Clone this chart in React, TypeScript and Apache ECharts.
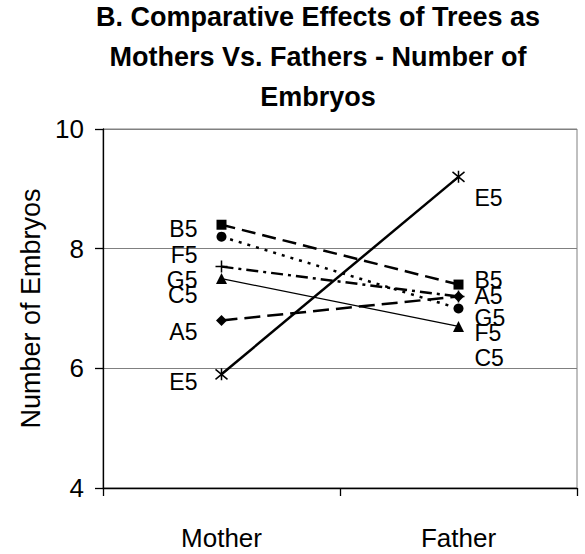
import React, { useEffect, useRef } from "react";
import * as echarts from "echarts";

const categories = ["Mother", "Father"];
const seriesNames = ["B5", "F5", "G5", "C5", "A5", "E5"];
const b5 = [8.4, 7.4];
const f5 = [8.2, 7.0];
const g5 = [7.7, 7.2];
const c5 = [7.5, 6.7];
const a5 = [6.8, 7.2];
const e5 = [5.9, 9.2];
const yMin = 4;
const yMax = 10;
const yInterval = 2;

const PLUS = "path://M5,0L5,10M0,5L10,5";
const STAR = "path://M0,0L10,10M0,10L10,0M5,-1L5,11";

// style per series (position offsets of the text labels in pixels)
const styles: any[] = [
  { symbol: "rect", size: 10, width: 2.5, type: [14, 7], dy: [4, -5] },
  { symbol: "circle", size: 10, width: 2.5, type: [3, 6], dy: [18, 24] },
  { symbol: PLUS, size: 12, width: 2.5, type: [12, 5, 3, 5], dy: [13, 21] },
  { symbol: "triangle", size: 11, width: 1.3, type: "solid", dy: [16, 32] },
  { symbol: "diamond", size: 11, width: 2.5, type: [16, 7], dy: [12, -1] },
  { symbol: STAR, size: 12, width: 2.5, type: "solid", dy: [8, 21] },
];

const values = [b5, f5, g5, c5, a5, e5];

export default function App() {
  const ref = useRef<HTMLDivElement>(null);
  useEffect(() => {
    const chart = echarts.init(ref.current!, undefined, { renderer: "svg" });
    const font = "'Liberation Sans', Arial, sans-serif";
    const series = values.map((vals, i) => {
      const s = styles[i];
      return {
        name: seriesNames[i],
        type: "line",
        data: vals.map((v, j) => ({
          value: v,
          label: {
            show: true,
            formatter: seriesNames[i],
            position: "inside",
            align: j === 0 ? "right" : "left",
            verticalAlign: "middle",
            offset: [j === 0 ? -24 : 16, s.dy[j]],
            fontSize: 23,
            fontFamily: font,
            color: "#000",
          },
        })),
        symbol: s.symbol,
        symbolSize: s.size,
        showSymbol: true,
        lineStyle: { color: "#000", width: s.width, type: s.type },
        itemStyle: {
          color: "#000",
          borderColor: "#000",
          borderWidth: s.symbol === PLUS || s.symbol === STAR ? 1.5 : 0,
        },
        emphasis: { disabled: true },
        z: 3,
      };
    });
    chart.setOption({
      animation: false,
      backgroundColor: "#fff",
      title: {
        text: "B. Comparative Effects of Trees as\nMothers Vs. Fathers - Number of\nEmbryos",
        left: 318,
        textAlign: "center",
        top: -3,
        padding: 0,
        textStyle: {
          fontFamily: font,
          fontSize: 27,
          fontWeight: "bold",
          lineHeight: 40,
          color: "#000",
        },
      },
      grid: {
        left: 103,
        right: 8,
        top: 129,
        bottom: 66,
        show: true,
        borderColor: "#808080",
        borderWidth: 1,
      },
      xAxis: {
        type: "category",
        data: categories,
        boundaryGap: true,
        axisLine: { lineStyle: { color: "#000", width: 1.3 } },
        axisTick: { show: true, length: 8, lineStyle: { color: "#000", width: 1.3 } },
        axisLabel: { margin: 37, fontSize: 26, fontFamily: font, color: "#000" },
        splitLine: { show: false },
      },
      yAxis: {
        type: "value",
        min: yMin,
        max: yMax,
        interval: yInterval,
        name: "Number of Embryos",
        nameLocation: "middle",
        nameGap: 41,
        nameTextStyle: { fontSize: 27, fontFamily: font, color: "#000" },
        axisLine: { show: true, lineStyle: { color: "#000", width: 1.3 } },
        axisTick: { show: true, length: 8, lineStyle: { color: "#000", width: 1.3 } },
        axisLabel: { margin: 19, fontSize: 26, fontFamily: font, color: "#000" },
        splitLine: { show: true, lineStyle: { color: "#808080", width: 1 } },
      },
      series,
    });
    return () => chart.dispose();
  }, []);
  return (
    <div
      ref={ref}
      style={{ position: "fixed", left: 0, top: 0, width: 585, height: 554 }}
    />
  );
}
